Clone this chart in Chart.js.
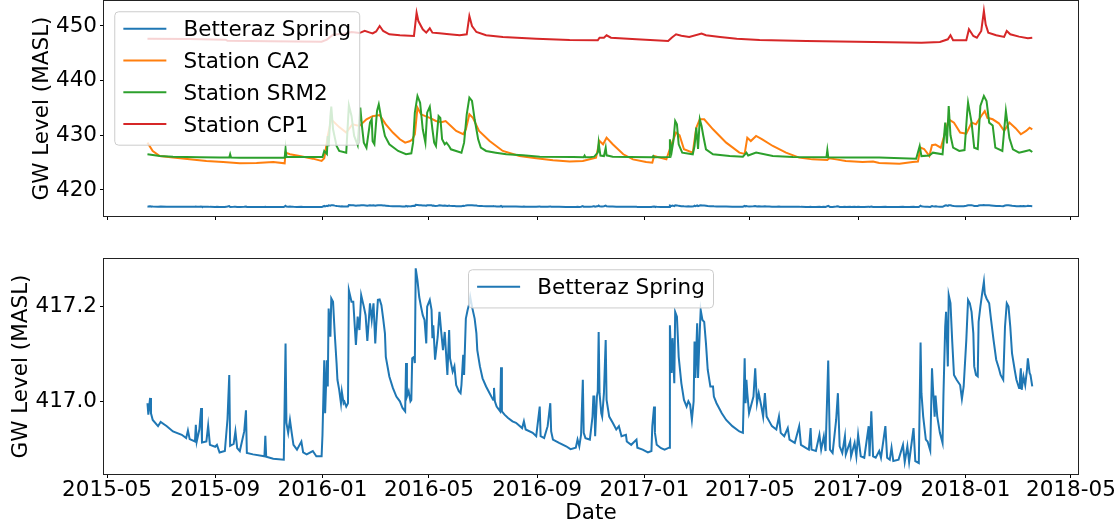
<!DOCTYPE html>
<html><head><meta charset="utf-8">
<script src="https://cdn.jsdelivr.net/npm/chart.js@4.4.1/dist/chart.umd.min.js"></script>
<style>
html,body{margin:0;padding:0;background:#fff;}
#wrap{position:relative;width:1118px;height:529px;overflow:hidden;background:#fff;}
#c1{position:absolute;left:0;top:0;}
#c2{position:absolute;left:0;top:250px;}
</style></head><body>
<div id="wrap"><canvas id="c1" width="1118" height="226" style="width:1118px;height:226px"></canvas><canvas id="c2" width="1118" height="279" style="width:1118px;height:279px"></canvas></div>
<script>
// ---------------- DATA ----------------
const tickDates = ['2015-05-01','2015-09-01','2016-01-01','2016-05-01','2016-09-01','2017-01-01','2017-05-01','2017-09-01','2018-01-01','2018-05-01'];
const tickLabels = tickDates.map(d => d.slice(0,7));
const topYTicks = [420, 430, 440, 450];
const botYTicks = [417.0, 417.2];
const seriesNames = ['Betteraz Spring', 'Station CA2', 'Station SRM2', 'Station CP1'];

const betterazDates = ['2015-06-16','2015-06-17','2015-06-19','2015-06-20','2015-06-22','2015-06-28','2015-07-01','2015-07-08','2015-07-15','2015-07-25','2015-07-30','2015-08-01','2015-08-03','2015-08-09','2015-08-10','2015-08-11','2015-08-14','2015-08-16','2015-08-17','2015-08-22','2015-08-24','2015-08-26','2015-09-01','2015-09-03','2015-09-06','2015-09-12','2015-09-15','2015-09-17','2015-09-18','2015-09-22','2015-09-24','2015-09-26','2015-09-29','2015-10-04','2015-10-06','2015-10-07','2015-10-14','2015-10-27','2015-10-28','2015-10-29','2015-11-06','2015-11-18','2015-11-20','2015-11-21','2015-11-23','2015-11-25','2015-11-27','2015-11-29','2015-12-03','2015-12-08','2015-12-10','2015-12-14','2015-12-21','2015-12-25','2015-12-31',
'2016-01-01','2016-01-03','2016-01-04','2016-01-06','2016-01-07','2016-01-08','2016-01-10','2016-01-11','2016-01-13','2016-01-15','2016-01-17','2016-01-18','2016-01-20','2016-01-22','2016-01-23','2016-01-25','2016-01-26','2016-01-28','2016-01-30','2016-01-31','2016-02-03','2016-02-05','2016-02-08','2016-02-10','2016-02-12','2016-02-14','2016-02-17','2016-02-19','2016-02-21','2016-02-24','2016-02-26','2016-02-28','2016-03-01','2016-03-02','2016-03-04','2016-03-06','2016-03-08','2016-03-10','2016-03-12','2016-03-13','2016-03-17','2016-03-21','2016-03-25','2016-03-29','2016-04-01','2016-04-04','2016-04-05','2016-04-06','2016-04-08','2016-04-10','2016-04-11','2016-04-12','2016-04-14','2016-04-15','2016-04-16','2016-04-18','2016-04-20','2016-04-22','2016-04-24','2016-04-26','2016-04-28','2016-04-29','2016-05-02','2016-05-04','2016-05-05','2016-05-06','2016-05-08','2016-05-11','2016-05-13','2016-05-15','2016-05-17','2016-05-19','2016-05-22','2016-05-24','2016-05-25','2016-05-28','2016-05-30','2016-06-01','2016-06-04','2016-06-06','2016-06-07','2016-06-09','2016-06-10','2016-06-12','2016-06-14','2016-06-16','2016-06-17','2016-06-19','2016-06-22','2016-06-24','2016-06-25','2016-06-28','2016-07-01','2016-07-05','2016-07-09','2016-07-13','2016-07-14','2016-07-15','2016-07-17','2016-07-21','2016-07-22','2016-07-23','2016-07-26','2016-07-30','2016-08-04','2016-08-08','2016-08-15','2016-08-17','2016-08-19','2016-08-27','2016-08-31','2016-09-04','2016-09-05','2016-09-09','2016-09-13','2016-09-16','2016-09-17','2016-09-19','2016-09-26','2016-10-04','2016-10-09','2016-10-15','2016-10-17','2016-10-19','2016-10-21','2016-10-23','2016-10-24','2016-10-26','2016-10-31','2016-11-03','2016-11-04','2016-11-05','2016-11-06','2016-11-08','2016-11-09','2016-11-10','2016-11-11','2016-11-13','2016-11-14','2016-11-16','2016-11-18','2016-11-19','2016-11-22','2016-11-26','2016-11-30','2016-12-03','2016-12-06','2016-12-11','2016-12-12','2016-12-17','2016-12-23','2016-12-24','2016-12-30',
'2017-01-05','2017-01-09','2017-01-10','2017-01-12','2017-01-13','2017-01-15','2017-01-20','2017-01-24','2017-01-29','2017-01-30','2017-02-01','2017-02-02','2017-02-04','2017-02-05','2017-02-07','2017-02-09','2017-02-12','2017-02-15','2017-02-18','2017-02-20','2017-02-22','2017-02-24','2017-02-26','2017-02-27','2017-02-28','2017-03-02','2017-03-03','2017-03-05','2017-03-06','2017-03-08','2017-03-10','2017-03-12','2017-03-14','2017-03-17','2017-03-20','2017-03-21','2017-03-24','2017-03-30','2017-04-04','2017-04-11','2017-04-19','2017-04-23','2017-04-25','2017-04-26','2017-04-27','2017-04-28','2017-04-30','2017-05-05','2017-05-07','2017-05-09','2017-05-11','2017-05-14','2017-05-16','2017-05-18','2017-05-20','2017-05-23','2017-05-26','2017-05-31','2017-06-03','2017-06-05','2017-06-09','2017-06-13','2017-06-15','2017-06-21','2017-06-26','2017-06-28','2017-07-04','2017-07-07','2017-07-09','2017-07-10','2017-07-15','2017-07-19','2017-07-21','2017-07-24','2017-07-26','2017-07-29','2017-07-31','2017-08-03','2017-08-07','2017-08-09','2017-08-11','2017-08-14','2017-08-17','2017-08-18','2017-08-23','2017-08-24','2017-08-28','2017-08-30','2017-09-01','2017-09-04','2017-09-08','2017-09-13','2017-09-14','2017-09-16','2017-09-18','2017-09-21','2017-09-25','2017-09-27','2017-10-02','2017-10-04','2017-10-07','2017-10-09','2017-10-11','2017-10-17','2017-10-22','2017-10-24','2017-10-27','2017-10-29','2017-11-03','2017-11-05','2017-11-09','2017-11-11','2017-11-12','2017-11-14','2017-11-17','2017-11-19','2017-11-22','2017-11-24','2017-11-25','2017-11-27','2017-11-28','2017-11-30','2017-12-03','2017-12-06','2017-12-07','2017-12-09','2017-12-10','2017-12-12','2017-12-13','2017-12-15','2017-12-17','2017-12-19','2017-12-22','2017-12-26','2017-12-28','2017-12-30',
'2018-01-02','2018-01-04','2018-01-06','2018-01-08','2018-01-10','2018-01-11','2018-01-13','2018-01-15','2018-01-16','2018-01-18','2018-01-20','2018-01-22','2018-01-23','2018-01-25','2018-01-28','2018-01-30','2018-02-02','2018-02-05','2018-02-08','2018-02-10','2018-02-13','2018-02-15','2018-02-17','2018-02-19','2018-02-21','2018-02-23','2018-02-26','2018-02-28','2018-03-03','2018-03-04','2018-03-05','2018-03-06','2018-03-08','2018-03-10','2018-03-12','2018-03-13','2018-03-15','2018-03-16','2018-03-18'];
const betterazLevels = [416.997,416.973,417.008,416.976,416.962,416.949,416.958,416.949,416.938,416.931,416.924,416.940,416.922,416.917,416.952,416.917,416.942,416.987,416.915,416.917,416.950,416.910,416.906,416.910,416.894,416.897,416.964,417.056,416.908,416.912,416.938,416.903,416.897,416.938,416.982,416.893,416.890,416.886,416.929,416.885,416.881,416.879,417.122,416.956,416.935,416.962,416.935,416.910,416.900,416.917,416.894,416.890,416.897,416.886,416.886,
416.931,417.087,416.976,417.087,417.032,417.195,417.136,417.216,417.209,417.140,417.081,417.046,417.025,416.997,417.021,416.997,417.000,416.990,416.997,417.233,417.209,417.209,417.119,417.178,417.150,417.223,417.199,417.181,417.127,417.206,417.171,417.206,417.122,417.157,417.213,417.214,417.202,417.174,417.143,417.094,417.053,417.029,417.011,417.001,416.987,416.980,417.081,417.011,417.022,417.001,417.004,417.091,417.094,417.081,417.279,417.254,417.219,417.199,417.181,417.171,417.122,417.199,417.213,417.192,417.133,417.160,417.088,417.136,417.188,417.146,417.108,417.146,417.056,417.150,417.091,417.063,417.074,417.035,417.022,417.018,417.035,417.098,417.056,417.174,417.192,417.206,417.219,417.199,417.174,417.143,417.108,417.074,417.049,417.032,417.018,417.004,417.029,417.001,416.990,416.980,417.072,416.980,416.973,416.966,416.959,416.956,416.945,416.959,416.942,416.935,416.928,416.990,416.928,416.924,416.949,416.997,416.938,416.921,416.914,416.907,416.901,416.904,416.921,416.907,416.931,417.046,416.935,416.924,416.921,416.969,417.011,417.011,416.928,417.011,417.022,417.146,417.018,416.976,416.969,417.018,417.129,417.004,416.969,416.956,416.942,416.949,416.928,416.931,416.917,416.910,416.921,416.904,416.900,
416.894,416.897,416.949,416.990,416.935,416.910,416.903,416.900,416.904,417.160,417.060,417.133,417.039,417.188,417.178,417.094,417.039,417.004,416.990,417.001,416.994,416.962,417.001,417.126,417.050,417.164,417.050,417.150,417.192,417.171,417.167,417.122,417.067,417.032,417.032,417.011,416.997,416.976,416.962,416.949,416.938,416.935,417.091,416.997,417.046,417.018,416.976,417.011,417.070,416.997,417.018,416.990,416.969,417.018,416.969,416.959,416.949,416.942,416.969,416.935,416.928,416.945,416.921,416.914,416.949,416.910,416.903,416.900,416.945,416.900,416.897,416.931,416.900,416.928,416.897,417.086,416.900,416.893,416.962,417.018,416.907,416.893,416.928,416.890,416.917,416.886,416.914,416.886,416.931,416.886,416.883,416.949,416.886,416.980,416.886,416.883,416.897,416.883,416.949,416.883,416.879,416.904,416.876,416.879,416.910,416.874,416.907,416.874,416.945,416.876,416.872,417.124,417.018,416.969,416.921,416.917,416.898,417.070,417.032,416.969,417.013,416.969,416.935,416.914,417.013,417.157,417.188,417.074,417.223,417.206,417.126,417.056,417.046,417.035,417.006,417.032,
417.129,417.213,417.206,417.188,417.143,417.074,417.056,417.053,417.167,417.199,417.226,417.251,417.226,417.216,417.206,417.174,417.129,417.088,417.070,417.056,417.046,417.157,417.206,417.199,417.157,417.101,417.067,417.046,417.029,417.046,417.070,417.025,417.053,417.035,417.067,417.091,417.060,417.056,417.032];

const ca2Dates = ['2015-06-16','2015-06-22','2015-06-30','2015-07-15','2015-08-03','2015-08-22','2015-09-10','2015-09-29','2015-10-18','2015-11-06','2015-11-19','2015-11-20','2015-11-25','2015-12-06','2015-12-21','2015-12-31','2016-01-03','2016-01-05','2016-01-07','2016-01-11','2016-01-13','2016-01-20','2016-01-28','2016-02-04','2016-02-12','2016-02-20','2016-02-27','2016-03-06','2016-03-13','2016-03-21','2016-03-29','2016-04-04','2016-04-09','2016-04-12','2016-04-15','2016-04-18','2016-04-22','2016-04-27','2016-05-02','2016-05-09','2016-05-15','2016-05-20','2016-05-26','2016-06-01','2016-06-09','2016-06-12','2016-06-16','2016-06-20','2016-06-27','2016-07-09','2016-07-24','2016-08-12','2016-08-31','2016-09-19','2016-10-08','2016-10-23','2016-11-07','2016-11-11','2016-11-15','2016-11-19','2016-11-26','2016-12-08','2016-12-19','2017-01-03','2017-01-10','2017-01-12','2017-01-26','2017-01-31','2017-02-06','2017-02-10','2017-02-15','2017-02-25','2017-03-01','2017-03-05','2017-03-10','2017-03-20','2017-04-04','2017-04-19','2017-04-25','2017-04-28','2017-05-02','2017-05-08','2017-05-15','2017-05-27','2017-06-11','2017-06-26','2017-07-11','2017-07-28','2017-07-30','2017-08-07','2017-08-18','2017-09-06','2017-09-18','2017-09-25','2017-10-18','2017-11-02','2017-11-08','2017-11-11','2017-11-15','2017-11-21','2017-11-24','2017-11-28','2017-12-04','2017-12-10','2017-12-13','2017-12-19','2017-12-26','2018-01-02','2018-01-08','2018-01-13','2018-01-19','2018-01-23','2018-01-26','2018-02-01','2018-02-08','2018-02-14','2018-02-20','2018-02-27','2018-03-05','2018-03-11','2018-03-15','2018-03-18'];
const ca2Levels = [428.66,427.14,426.22,425.92,425.60,425.30,425.10,424.88,424.95,425.10,424.88,426.83,426.53,426.22,425.73,425.30,425.80,427.74,429.88,432.93,432.60,431.50,430.50,432.00,431.70,432.93,433.50,433.70,432.00,430.50,429.27,428.66,428.90,429.20,430.19,435.06,433.84,433.50,433.20,432.62,432.40,432.62,431.70,430.80,430.19,431.10,433.84,433.20,430.80,428.96,427.14,426.22,425.80,425.44,425.20,425.30,425.92,428.96,428.36,429.57,428.36,426.53,425.60,425.10,425.00,426.22,425.60,428.00,430.50,430.00,427.44,426.83,431.40,432.93,432.93,431.10,428.66,426.83,426.60,429.57,428.96,429.88,429.27,428.05,426.83,425.92,425.60,425.49,425.80,425.60,425.30,425.12,425.20,424.94,424.82,425.10,425.20,427.74,427.50,426.22,428.20,428.30,427.74,431.10,432.93,432.30,430.50,430.30,432.32,432.00,433.54,434.45,433.20,432.93,432.20,430.80,432.32,431.30,430.19,430.80,431.40,431.10];

const srm2Dates = ['2015-06-16','2015-06-30','2015-07-15','2015-08-14','2015-09-06','2015-09-17','2015-09-18','2015-09-19','2015-09-29','2015-11-19','2015-11-20','2015-11-21','2016-01-01','2016-01-03','2016-01-06','2016-01-07','2016-01-08','2016-01-10','2016-01-11','2016-01-13','2016-01-17','2016-01-20','2016-01-28','2016-01-31','2016-02-03','2016-02-06','2016-02-10','2016-02-13','2016-02-15','2016-02-17','2016-02-20','2016-02-24','2016-02-26','2016-02-27','2016-02-29','2016-03-03','2016-03-05','2016-03-08','2016-03-12','2016-03-17','2016-03-27','2016-04-05','2016-04-11','2016-04-13','2016-04-15','2016-04-18','2016-04-21','2016-04-24','2016-04-27','2016-04-29','2016-05-02','2016-05-05','2016-05-07','2016-05-09','2016-05-12','2016-05-14','2016-05-16','2016-05-19','2016-05-21','2016-05-24','2016-05-26','2016-06-07','2016-06-10','2016-06-13','2016-06-16','2016-06-19','2016-06-22','2016-06-26','2016-06-29','2016-07-05','2016-07-16','2016-07-28','2016-08-16','2016-09-04','2016-10-12','2016-10-24','2016-10-25','2016-10-26','2016-10-31','2016-11-05','2016-11-09','2016-11-10','2016-11-12','2016-11-16','2016-11-18','2016-11-19','2016-11-26','2016-12-15','2017-01-10','2017-01-11','2017-01-12','2017-01-29','2017-01-30','2017-02-01','2017-02-03','2017-02-05','2017-02-07','2017-02-09','2017-02-13','2017-02-25','2017-02-27','2017-03-01','2017-03-03','2017-03-05','2017-03-07','2017-03-09','2017-03-12','2017-03-20','2017-04-08','2017-04-23','2017-04-27','2017-04-29','2017-05-08','2017-05-27','2017-06-19','2017-07-27','2017-07-28','2017-07-29','2017-08-18','2017-09-25','2017-11-06','2017-11-10','2017-11-12','2017-11-21','2017-11-25','2017-12-06','2017-12-09','2017-12-11','2017-12-13','2017-12-15','2017-12-18','2017-12-25','2017-12-31','2018-01-03','2018-01-04','2018-01-08','2018-01-11','2018-01-15','2018-01-18','2018-01-22','2018-01-25','2018-01-28','2018-02-01','2018-02-04','2018-02-12','2018-02-16','2018-02-20','2018-02-24','2018-03-03','2018-03-11','2018-03-15','2018-03-18'];
const srm2Levels = [426.53,426.22,426.10,425.98,425.95,425.95,426.53,425.95,425.90,425.90,427.56,426.04,426.04,427.14,426.60,429.88,428.00,433.54,435.24,431.10,428.05,427.14,426.83,435.50,433.54,429.88,428.20,435.06,431.50,428.66,427.74,432.32,432.93,428.90,428.36,434.45,435.67,432.93,429.88,428.36,427.14,426.53,426.70,428.66,434.14,437.20,435.98,431.10,428.66,434.14,435.24,431.10,428.66,428.05,433.54,433.20,429.27,428.36,428.66,428.00,427.44,426.83,428.66,433.84,436.89,436.28,432.93,429.27,427.74,427.14,426.83,426.53,426.34,426.10,426.04,426.00,426.30,426.00,426.00,426.10,426.83,428.66,426.30,426.20,427.74,426.34,426.10,426.04,426.00,426.20,426.00,426.04,429.27,427.00,429.00,432.62,432.00,428.36,426.83,426.53,428.05,431.40,427.50,432.93,431.70,429.88,427.44,426.53,426.22,426.10,426.83,426.30,426.83,426.22,426.04,426.00,427.30,426.00,425.92,425.92,425.73,428.05,426.20,426.30,426.83,426.53,432.32,428.50,435.37,430.00,427.74,427.14,427.30,434.14,435.98,432.32,427.74,427.50,435.37,437.20,436.28,432.32,431.80,427.74,427.14,434.45,429.50,427.44,426.83,427.14,427.30,426.95];

const cp1Dates = ['2015-06-16','2015-08-03','2015-09-13','2015-09-15','2015-11-02','2015-12-31','2016-01-06','2016-01-13','2016-01-26','2016-02-03','2016-02-12','2016-02-18','2016-02-24','2016-02-27','2016-03-02','2016-03-06','2016-03-10','2016-03-17','2016-03-29','2016-04-14','2016-04-17','2016-04-19','2016-04-24','2016-04-28','2016-05-02','2016-05-05','2016-05-13','2016-05-24','2016-06-05','2016-06-13','2016-06-16','2016-06-19','2016-06-24','2016-07-05','2016-07-24','2016-08-31','2016-10-08','2016-11-09','2016-11-11','2016-11-16','2016-11-19','2016-11-24','2016-12-23','2017-01-28','2017-02-01','2017-02-06','2017-02-12','2017-02-21','2017-03-07','2017-03-12','2017-03-28','2017-04-16','2017-05-12','2017-07-04','2017-09-18','2017-11-12','2017-12-03','2017-12-12','2017-12-15','2017-12-18','2018-01-02','2018-01-05','2018-01-10','2018-01-14','2018-01-19','2018-01-22','2018-01-24','2018-01-27','2018-02-05','2018-02-14','2018-02-17','2018-02-21','2018-03-03','2018-03-13','2018-03-18'];
const cp1Levels = [447.68,447.60,447.50,447.30,447.20,447.13,447.50,448.40,448.60,448.90,448.70,449.10,448.78,448.63,449.00,450.00,449.09,448.48,448.30,448.17,452.43,450.90,449.39,448.78,449.57,448.78,448.66,448.48,448.30,448.48,451.83,450.00,448.90,448.30,447.99,447.68,447.44,447.38,447.86,447.86,448.30,447.86,447.56,447.26,447.86,448.48,448.20,448.00,448.60,448.30,447.99,447.68,447.44,447.26,447.07,446.95,447.07,447.56,448.30,447.38,447.38,449.39,448.17,447.86,449.09,452.74,450.30,448.78,448.30,447.99,449.09,448.48,448.05,447.75,447.86];

// ---------------- RENDER ----------------
const FONT = 'DejaVu Sans';
const FS = 21.5;
Chart.defaults.font.family = FONT;
Chart.defaults.color = '#000';
const COLORS = ['#1f77b4', '#ff7f0e', '#2ca02c', '#d62728'];
const toPts = (ds, vs) => ds.map((d, i) => ({x: Date.parse(d), y: vs[i]}));
const xMin = Date.parse('2015-04-27T14:00:00Z');
const xMax = Date.parse('2018-05-09T00:00:00Z');

function mkLine(idx, dates, vals) {
  return {label: seriesNames[idx], data: toPts(dates, vals), borderColor: COLORS[idx], backgroundColor: COLORS[idx],
    borderWidth: 2, pointRadius: 0, tension: 0, fill: false, order: 4 - idx};
}

function xAxis(showLabels, h) {
  return {
    type: 'linear', min: xMin, max: xMax,
    afterBuildTicks: s => { s.ticks = tickDates.map(d => ({value: Date.parse(d)})); },
    afterFit: s => { s.height = h; s.paddingLeft = 0; s.paddingRight = 0; },
    grid: {display: true, drawOnChartArea: false, drawTicks: true, tickLength: 4, color: '#000', lineWidth: 1},
    border: {display: false},
    ticks: {display: showLabels, autoSkip: false, maxRotation: 0, minRotation: 0, padding: 0, font: {size: FS},
      callback: (v) => { const i = tickDates.findIndex(d => Date.parse(d) === v); return i >= 0 ? tickLabels[i] : ''; }},
    title: {display: showLabels, text: 'Date', font: {size: FS}, padding: {top: 0, bottom: 3}}
  };
}
function yAxis(min, max, ticks, dec, titlePad) {
  return {
    type: 'linear', min, max,
    afterBuildTicks: s => { s.ticks = ticks.map(v => ({value: v})); },
    afterFit: s => { s.width = 104; s.paddingTop = 0; s.paddingBottom = 0; },
    grid: {display: true, drawOnChartArea: false, drawTicks: true, tickLength: 4, color: '#000', lineWidth: 1},
    border: {display: false},
    ticks: {font: {size: FS}, padding: 3, callback: v => Number(v).toFixed(dec)},
    title: {display: true, text: 'GW Level (MASL)', font: {size: FS}, padding: {top: titlePad, bottom: 0}}
  };
}

const boxPlugin = {
  id: 'mplBox',
  afterDatasetsDraw(chart) {
    const {ctx, chartArea: a} = chart;
    ctx.save();
    ctx.strokeStyle = '#222'; ctx.lineWidth = 1;
    const l = Math.round(a.left) - 0.5, t = Math.round(a.top) - 0.5;
    ctx.strokeRect(l, t, Math.round(a.right) - Math.round(a.left) + 1, Math.round(a.bottom) - Math.round(a.top) + 1);
    ctx.restore();
  }
};

function legendPlugin(mode) {
  return {
    id: 'mplLegend',
    afterDraw(chart) {
      const {ctx, chartArea: a} = chart;
      const items = chart.data.datasets.map(d => ({label: d.label, color: d.borderColor}));
      ctx.save();
      ctx.font = FS + 'px "' + FONT + '"';
      const tw = Math.max(...items.map(it => ctx.measureText(it.label).width));
      const pad = 0.4 * FS, hl = 2 * FS, htp = 0.8 * FS, rowH = 21, sp = 0.5 * FS;
      const w = pad + hl + htp + tw + pad;
      const h = 2 * pad + items.length * rowH + (items.length - 1) * sp;
      const gap = 0.5 * FS;
      const left = mode === 'upper left' ? a.left + gap : (a.left + a.right) / 2 - w / 2;
      const top = a.top + gap;
      const r = 4;
      ctx.beginPath();
      ctx.moveTo(left + r, top);
      ctx.arcTo(left + w, top, left + w, top + h, r);
      ctx.arcTo(left + w, top + h, left, top + h, r);
      ctx.arcTo(left, top + h, left, top, r);
      ctx.arcTo(left, top, left + w, top, r);
      ctx.closePath();
      ctx.fillStyle = 'rgba(255,255,255,0.8)';
      ctx.fill();
      ctx.strokeStyle = '#cccccc'; ctx.lineWidth = 1; ctx.stroke();
      items.forEach((it, i) => {
        const ly = top + 17 + i * (rowH + sp);
        ctx.strokeStyle = it.color; ctx.lineWidth = 2;
        ctx.beginPath(); ctx.moveTo(left + pad, ly); ctx.lineTo(left + pad + hl, ly); ctx.stroke();
        ctx.fillStyle = '#000'; ctx.textBaseline = 'alphabetic'; ctx.textAlign = 'left';
        ctx.fillText(it.label, left + pad + hl + htp, ly + 7.5);
      });
      ctx.restore();
    }
  };
}

new Chart(document.getElementById('c1'), {
  type: 'line',
  data: {datasets: [
    mkLine(0, betterazDates, betterazLevels),
    mkLine(1, ca2Dates, ca2Levels),
    mkLine(2, srm2Dates, srm2Levels),
    mkLine(3, cp1Dates, cp1Levels)
  ]},
  options: {
    responsive: false, animation: false, parsing: false, normalized: true,
    layout: {padding: {left: 0, right: 40, top: 1, bottom: 0}},
    plugins: {legend: {display: false}, tooltip: {enabled: false}},
    scales: {x: xAxis(false, 10), y: yAxis(415.24, 454.57, topYTicks, 0, 29.4)}
  },
  plugins: [boxPlugin, legendPlugin('upper left')]
});

new Chart(document.getElementById('c2'), {
  type: 'line',
  data: {datasets: [mkLine(0, betterazDates, betterazLevels)]},
  options: {
    responsive: false, animation: false, parsing: false, normalized: true,
    layout: {padding: {left: 0, right: 40, top: 9, bottom: 0}},
    plugins: {legend: {display: false}, tooltip: {enabled: false}},
    scales: {x: xAxis(true, 55), y: yAxis(416.849, 417.2985, botYTicks, 1, 8.4)}
  },
  plugins: [boxPlugin, legendPlugin('upper center')]
});
</script>
</body></html>
